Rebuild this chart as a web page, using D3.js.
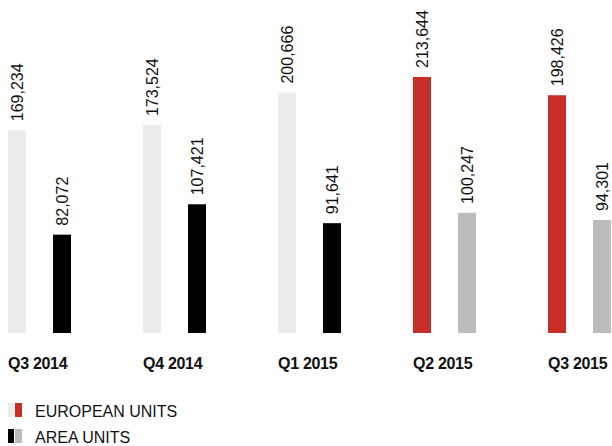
<!DOCTYPE html>
<html>
<head>
<meta charset="utf-8">
<script src="https://cdn.jsdelivr.net/npm/d3@7"></script>
<style>
  body { margin: 0; background: #fff; }
  svg { display: block; }
</style>
</head>
<body>
<script>
let w = 612;
let h = 446;

let quarters = ['Q3 2014', 'Q4 2014', 'Q1 2015', 'Q2 2015', 'Q3 2015'];
let europeanUnits = [169234, 173524, 200666, 213644, 198426];
let areaUnits = [82072, 107421, 91641, 100247, 94301];
let highlighted = ['Q2 2015', 'Q3 2015'];

let euColors = ['#ececec', '#c62e27'];
let areaColors = ['#000000', '#bcbcbc'];

let barWidth = 18;
let baseline = 333;

let x0 = d3.scaleBand()
  .domain(quarters)
  .range([8, 8 + quarters.length * 135]);

let x1 = d3.scalePoint()
  .domain(['eu', 'area'])
  .range([0, 45]);

let yScale = d3.scaleLinear()
  .domain([0, d3.max(europeanUnits.concat(areaUnits))])
  .range([baseline, 77]);

let fmt = d3.format(',');

let dataset = [];
quarters.forEach((q, i) => {
  let hi = highlighted.indexOf(q) >= 0 ? 1 : 0;
  dataset.push({ q: q, key: 'eu', v: europeanUnits[i], color: euColors[hi] });
  dataset.push({ q: q, key: 'area', v: areaUnits[i], color: areaColors[hi] });
});

let svg = d3.select('body')
  .append('svg')
  .attr('width', w)
  .attr('height', h);

svg.selectAll('rect.bar')
  .data(dataset)
  .enter()
  .append('rect')
  .attr('class', 'bar')
  .attr('x', (d) => { return x0(d.q) + x1(d.key); })
  .attr('y', (d) => { return yScale(d.v); })
  .attr('width', barWidth)
  .attr('height', (d) => { return baseline - yScale(d.v); })
  .attr('fill', (d) => { return d.color; });

svg.selectAll('text.value')
  .data(dataset)
  .enter()
  .append('text')
  .attr('class', 'value')
  .text((d) => { return fmt(d.v); })
  .attr('transform', (d) => {
    let cx = x0(d.q) + x1(d.key) + barWidth / 2;
    return 'translate(' + cx + ',' + (yScale(d.v) - 9) + ') rotate(-90)';
  })
  .attr('dy', '0.36em')
  .attr('font-family', 'Liberation Sans, Arial, sans-serif')
  .attr('font-size', '16px')
  .attr('fill', '#111');

svg.selectAll('text.cat')
  .data(quarters)
  .enter()
  .append('text')
  .attr('class', 'cat')
  .text((d) => { return d; })
  .attr('x', (d) => { return x0(d); })
  .attr('y', 369)
  .attr('font-family', 'Liberation Sans, Arial, sans-serif')
  .attr('font-weight', 'bold')
  .attr('font-size', '16px')
  .attr('letter-spacing', '-0.3px')
  .attr('fill', '#111');

// legend
let legend = [
  { label: 'EUROPEAN UNITS', colors: euColors },
  { label: 'AREA UNITS', colors: areaColors }
];

let lg = svg.selectAll('g.legend')
  .data(legend)
  .enter()
  .append('g')
  .attr('class', 'legend')
  .attr('transform', (d, i) => { return 'translate(8,' + (403 + i * 26) + ')'; });

lg.append('rect')
  .attr('x', 0)
  .attr('width', 6)
  .attr('height', 14)
  .attr('fill', (d) => { return d.colors[0]; });

lg.append('rect')
  .attr('x', 7)
  .attr('width', 7)
  .attr('height', 14)
  .attr('fill', (d) => { return d.colors[1]; });

lg.append('text')
  .text((d) => { return d.label; })
  .attr('x', 27)
  .attr('y', 14)
  .attr('font-family', 'Liberation Sans, Arial, sans-serif')
  .attr('font-size', '16px')
  .attr('fill', '#111');
</script>
</body>
</html>
